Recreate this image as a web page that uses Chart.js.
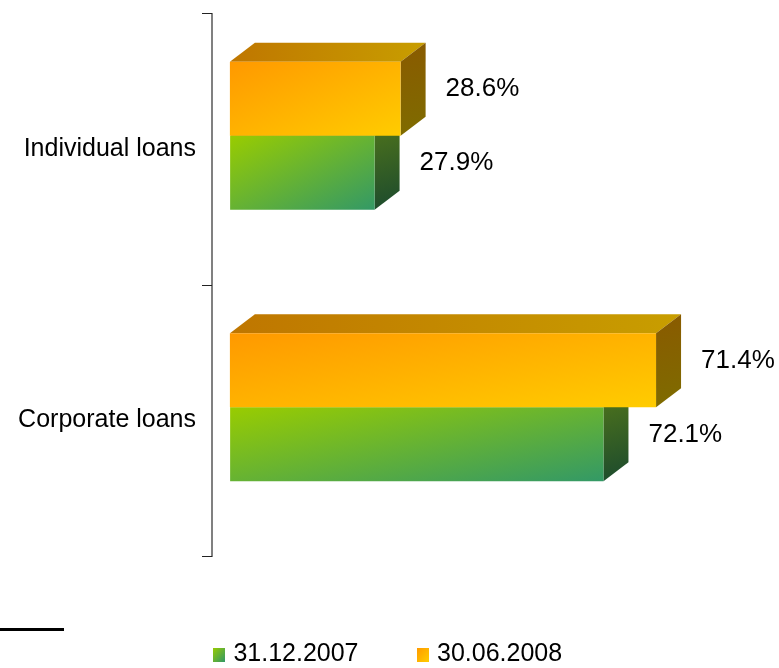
<!DOCTYPE html>
<html>
<head>
<meta charset="utf-8">
<title>Loan portfolio structure</title>
<script src="https://cdn.jsdelivr.net/npm/chart.js@4.4.1/dist/chart.umd.min.js"></script>
<style>
  html, body { margin: 0; padding: 0; background: #fff; }
  #wrap { position: relative; width: 779px; height: 668px; }
  #rule { position: absolute; left: 0; top: 628px; width: 64px; height: 3px; background: #000; }
</style>
</head>
<body>
<div id="wrap">
  <canvas id="chart" width="779" height="668"></canvas>
  <div id="rule"></div>
</div>
<script>
// Loan structure, share of portfolio (%)
const categories = ['Individual loans', 'Corporate loans'];
const dateLabels = ['31.12.2007', '30.06.2008'];
const dec2007 = [27.9, 72.1];
const jun2008 = [28.6, 71.4];

const FONT = '"Liberation Sans", Arial, sans-serif';
const CAT_PCT = 0.545;
const DX = 25, DY = 19;          // extrusion of the 3D boxes
const BRACKET_SHIFT = 13;

// index 0 = front series (June), index 1 = back series (December)
const FRONT = [['#FF9900', '#FFCC00'], ['#99CC00', '#339966']];
const FACES = [
  { top: ['#BF7600', '#C89E00'], side: ['#8A5A00', '#7E6C00'] },
  { top: ['#6E9A10', '#3F7A40'], side: ['#52761A', '#1B4A2E'] }
];

Chart.defaults.font.family = FONT;

// linear gradient whose isolines follow the rectangle's anti-diagonal
function diagGradient(g, left, top, w, h, stops) {
  const k = 2 * w * h / (w * w + h * h);
  const grad = g.createLinearGradient(left, top, left + h * k, top + w * k);
  stops.forEach((c, i) => grad.addColorStop(i / (stops.length - 1), c));
  return grad;
}

function barBox(chart, di, index) {
  const meta = chart.getDatasetMeta(di);
  const xs = meta.vScale, ys = meta.iScale;
  const n = chart.data.datasets.length;
  const size = ys.height / categories.length * CAT_PCT / n;
  const top = ys.getPixelForValue(index) - size * n / 2 + di * size;
  const left = xs.getPixelForValue(0);
  const right = xs.getPixelForValue(chart.data.datasets[di].data[index]);
  return { left, top, w: right - left, h: size };
}

const frontFill = di => ctx => {
  if (ctx.type !== 'data' || !ctx.chart.chartArea) return FRONT[di][0];
  const b = barBox(ctx.chart, di, ctx.dataIndex);
  return diagGradient(ctx.chart.ctx, b.left, b.top, b.w, b.h, FRONT[di]);
};

function swatch(stops) {
  const c = document.createElement('canvas');
  c.width = 12; c.height = 14;
  const g = c.getContext('2d');
  g.fillStyle = diagGradient(g, 0, 0, 12, 14, stops);
  g.fillRect(0, 0, 12, 14);
  return c;
}

function face(g, pts, stops, x0, y0, x1, y1) {
  const grad = g.createLinearGradient(x0, y0, x1, y1);
  grad.addColorStop(0, stops[0]);
  grad.addColorStop(1, stops[1]);
  g.beginPath();
  g.moveTo(pts[0][0], pts[0][1]);
  pts.slice(1).forEach(p => g.lineTo(p[0], p[1]));
  g.closePath();
  g.fillStyle = grad;
  g.fill();
}

const depthPlugin = {
  id: 'depth',
  beforeDatasetsDraw(chart) {
    const g = chart.ctx;
    g.save();
    // back series first so the front boxes cover it
    for (let di = chart.data.datasets.length - 1; di >= 0; di--) {
      chart.getDatasetMeta(di).data.forEach(el => {
        const { x, y, base, height } = el.getProps(['x', 'y', 'base', 'height'], true);
        const top = y - height / 2, bottom = y + height / 2;
        face(g, [[base, top], [base + DX, top - DY], [x + DX, top - DY], [x, top]],
          FACES[di].top, base, top - DY, x + DX, top);
        face(g, [[x, top], [x + DX, top - DY], [x + DX, bottom - DY], [x, bottom]],
          FACES[di].side, x, top - DY, x + DX, bottom);
      });
    }
    g.restore();
  },
  afterDatasetsDraw(chart) {
    const g = chart.ctx;
    g.save();
    g.font = '26px ' + FONT;
    g.fillStyle = '#000';
    g.textAlign = 'left';
    g.textBaseline = 'middle';
    chart.data.datasets.forEach((ds, di) => {
      chart.getDatasetMeta(di).data.forEach((el, i) => {
        g.fillText(ds.data[i].toFixed(1) + '%', el.x + DX + 20, el.y - DY / 2);
      });
    });
    g.restore();
  }
};

// bracket-style category axis on the left wall
const bracketPlugin = {
  id: 'bracket',
  afterDraw(chart) {
    const g = chart.ctx;
    const ys = chart.scales.y;
    const x = chart.chartArea.left;
    const marks = [ys.top, (ys.top + ys.bottom) / 2, ys.bottom].map(v => Math.round(v + BRACKET_SHIFT) + 0.5);
    g.save();
    g.strokeStyle = '#808080';
    g.lineWidth = 2;
    g.beginPath();
    g.moveTo(x, marks[0] - 0.5);
    g.lineTo(x, marks[2] + 0.5);
    g.stroke();
    g.strokeStyle = '#222';
    g.lineWidth = 1;
    marks.forEach(m => {
      g.beginPath();
      g.moveTo(x - 10, m);
      g.lineTo(x, m);
      g.stroke();
    });
    g.restore();
  }
};

new Chart(document.getElementById('chart'), {
  type: 'bar',
  data: {
    labels: categories,
    datasets: [
      { label: dateLabels[1], data: jun2008, xAxisID: 'xFront', backgroundColor: frontFill(0) },
      { label: dateLabels[0], data: dec2007, xAxisID: 'xBack', backgroundColor: frontFill(1) }
    ]
  },
  options: {
    indexAxis: 'y',
    responsive: false,
    animation: false,
    events: [],
    layout: { padding: 0 },
    datasets: {
      bar: { categoryPercentage: CAT_PCT, barPercentage: 1, borderWidth: 0 }
    },
    scales: {
      y: {
        grid: { display: false, drawTicks: false },
        border: { display: false },
        ticks: { color: '#000', font: { size: 25 }, padding: 16, labelOffset: BRACKET_SHIFT },
        afterFit(s) { s.width = 212; s.paddingTop = 0; s.paddingBottom = 0; }
      },
      xBack: {
        type: 'linear', position: 'bottom', min: -3.5, max: 106,
        grid: { display: false, drawTicks: false },
        border: { display: false },
        ticks: { display: false },
        afterFit(s) { s.height = 37; }
      },
      xFront: { type: 'linear', position: 'bottom', display: false, min: -3, max: 92 }
    },
    plugins: {
      tooltip: { enabled: false },
      legend: {
        position: 'bottom',
        maxHeight: 88,
        labels: {
          color: '#000',
          font: { size: 25 },
          padding: 62,
          usePointStyle: true,
          pointStyleWidth: 4,
          generateLabels: chart => [1, 0].map(di => ({
            text: chart.data.datasets[di].label,
            pointStyle: swatch(FRONT[di]),
            fillStyle: FRONT[di][0],
            strokeStyle: 'rgba(0,0,0,0)',
            lineWidth: 0,
            hidden: false,
            datasetIndex: di
          }))
        }
      }
    }
  },
  plugins: [depthPlugin, bracketPlugin]
});
</script>
</body>
</html>
